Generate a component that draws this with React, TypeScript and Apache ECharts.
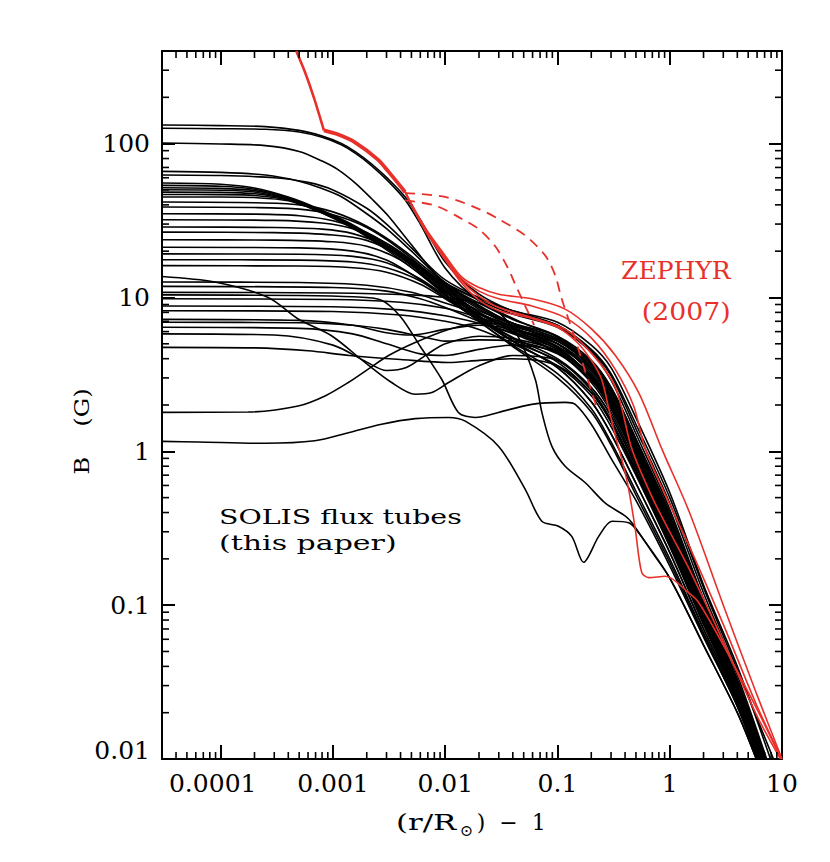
import React, { useEffect, useRef } from 'react';
import * as echarts from 'echarts';

const FONT = "'DejaVu Serif', serif";
const RED = '#e8302b';
const X_MIN = 3e-5;
const X_MAX = 10;
const Y_MIN = 0.01;
const Y_MAX = 400;

const xTickLabels = ['0.0001', '0.001', '0.01', '0.1', '1', '10'];
const yTickLabels = ['0.01', '0.1', '1', '10', '100'];

const xMinorTicks = [
  4e-5, 5e-5, 6e-5, 7e-5, 8e-5, 9e-5,
  2e-4, 3e-4, 4e-4, 5e-4, 6e-4, 7e-4, 8e-4, 9e-4,
  0.002, 0.003, 0.004, 0.005, 0.006, 0.007, 0.008, 0.009,
  0.02, 0.03, 0.04, 0.05, 0.06, 0.07, 0.08, 0.09,
  0.2, 0.3, 0.4, 0.5, 0.6, 0.7, 0.8, 0.9,
  2, 3, 4, 5, 6, 7, 8, 9,
];
const yMinorTicks = [
  0.02, 0.03, 0.04, 0.05, 0.06, 0.07, 0.08, 0.09,
  0.2, 0.3, 0.4, 0.5, 0.6, 0.7, 0.8, 0.9,
  2, 3, 4, 5, 6, 7, 8, 9,
  20, 30, 40, 50, 60, 70, 80, 90,
  200, 300,
];

// ---- SOLIS flux tubes (black) ----
const tube01 = [[3e-5,132],[1e-4,131],[2.5e-4,129],[5e-4,122],[8e-4,112],[1.2e-3,100],[1.6e-3,88],[2.2e-3,74],[3.1e-3,59],[4.4e-3,45],[6e-3,32],[0.01,17],[0.02,10.5],[0.05,7.6],[0.1,6.6],[0.2,4.6],[0.3,3.2],[0.5,1.5],[1,0.5],[2,0.13],[4,0.038],[8.4,0.01]];
const tube02 = [[3e-5,126],[1e-4,125],[2.5e-4,124],[5e-4,119],[8e-4,110],[1.2e-3,98],[1.6e-3,86],[2.2e-3,72],[3.1e-3,57],[4.4e-3,43],[6e-3,30],[0.01,15.5],[0.02,9.5],[0.05,6.8],[0.1,5.5],[0.2,3.5],[0.3,2.3],[0.5,1.05],[1,0.35],[2,0.1],[4,0.03],[7.1,0.01]];
const tube03 = [[3e-5,101],[1e-4,99.5],[2.5e-4,97],[5e-4,89],[8e-4,77],[1.1e-3,68],[1.6e-3,55],[2.2e-3,44],[3.1e-3,34],[5e-3,22],[0.01,12],[0.02,8],[0.05,6],[0.1,4.8],[0.2,3.0],[0.3,1.9],[0.5,0.9],[1,0.3],[2,0.088],[4,0.028],[6.8,0.01]];
const tube04 = [[3e-5,66],[1e-4,65],[2.5e-4,62.5],[5e-4,57],[8e-4,51],[1.2e-3,45],[2e-3,35],[3e-3,28],[5e-3,20],[0.01,12.5],[0.03,7.5],[0.1,5.0],[0.2,3.2],[0.3,2.1],[0.5,1.0],[1,0.32],[2,0.092],[4,0.029],[7,0.01]];
const tube05 = [[3e-5,62.5],[1e-4,62],[3e-4,60],[6e-4,56],[1e-3,50],[2e-3,38],[3e-3,30],[5e-3,21],[0.01,13],[0.03,8.8],[0.1,6.6],[0.2,4.5],[0.3,3.1],[0.5,1.4],[1,0.46],[2,0.12],[4,0.035],[7.3,0.01]];
const tube06 = [[3e-5,55.5],[1e-4,54.5],[2e-4,51.5],[4e-4,45],[7e-4,38.5],[1.4e-3,30.5],[2.7e-3,23],[5.4e-3,16.5],[0.01,12],[0.02,9.2],[0.04,7.2],[0.1,5.6],[0.2,3.7],[0.3,2.45],[0.5,1.12],[1,0.37],[2,0.1],[4,0.031],[7.2,0.01]];
const tube07 = [[3e-5,53.5],[1e-4,52.8],[2e-4,50.5],[4e-4,44.5],[7e-4,38],[1.4e-3,30],[2.7e-3,22.5],[5.4e-3,16],[0.01,11.5],[0.02,8.4],[0.04,6.4],[0.1,4.7],[0.2,3.0],[0.3,1.95],[0.5,0.9],[1,0.3],[2,0.087],[4,0.028],[6.9,0.01]];
const tube08 = [[3e-5,51.7],[1e-4,51.2],[2e-4,49.5],[4e-4,44],[7e-4,37.5],[1.4e-3,29.5],[2.7e-3,22.5],[5.4e-3,16.2],[0.01,11],[0.02,7.4],[0.04,5.2],[0.1,3.5],[0.2,2.1],[0.3,1.3],[0.5,0.62],[1,0.22],[2,0.07],[4,0.024],[6.3,0.01]];
const tube09 = [[3e-5,50.1],[1e-4,49.8],[2e-4,48.5],[4e-4,43.5],[7e-4,37],[1.4e-3,29],[2.7e-3,22],[5.4e-3,15.8],[0.01,11.2],[0.02,8.0],[0.04,6.0],[0.1,4.4],[0.2,2.8],[0.3,1.8],[0.5,0.84],[1,0.28],[2,0.083],[4,0.027],[6.8,0.01]];
const tube10 = [[3e-5,48.4],[1e-4,48.2],[2e-4,47.2],[4e-4,43.5],[7e-4,37.5],[1.4e-3,29.8],[2.7e-3,22.8],[5.4e-3,16.8],[0.01,12.3],[0.02,9.6],[0.04,7.8],[0.1,6.4],[0.2,4.4],[0.3,2.9],[0.5,1.3],[1,0.42],[2,0.11],[4,0.033],[7.2,0.01]];
const tube11 = [[3e-5,46.7],[1e-4,46.6],[2e-4,46],[4e-4,43],[7e-4,37],[1.4e-3,29],[2.7e-3,21.5],[5.4e-3,15],[0.01,10.4],[0.02,7.0],[0.04,4.9],[0.1,3.2],[0.2,1.9],[0.3,1.15],[0.5,0.55],[1,0.2],[2,0.066],[4,0.023],[6.1,0.01]];
const tube12 = [[3e-5,45],[1e-4,45],[2e-4,44.6],[4e-4,42.5],[7e-4,37],[1.4e-3,29.5],[2.7e-3,22],[5.4e-3,15.5],[0.01,10.8],[0.02,7.8],[0.04,6.2],[0.1,5.0],[0.2,3.4],[0.3,2.2],[0.5,1.0],[1,0.33],[2,0.093],[4,0.029],[7,0.01]];
const tube13 = [[3e-5,41.7],[2e-4,41.3],[5e-4,40],[1e-3,36],[2e-3,29],[4e-3,21],[0.01,12.5],[0.02,9.8],[0.04,8.2],[0.1,6.9],[0.2,4.9],[0.3,3.5],[0.5,1.65],[1,0.54],[2,0.135],[4,0.04],[7.9,0.01]];
const tube14 = [[3e-5,38.7],[2e-4,38.4],[5e-4,37.5],[1e-3,34.5],[2e-3,28.5],[4e-3,20.5],[0.01,11.8],[0.02,8.6],[0.04,6.6],[0.1,5.2],[0.2,3.5],[0.3,2.3],[0.5,1.06],[1,0.35],[2,0.098],[4,0.03],[7.1,0.01]];
const tube15 = [[3e-5,35],[2e-4,34.8],[5e-4,34],[1e-3,31.5],[2e-3,26.5],[4e-3,19.5],[0.01,11.5],[0.02,7.6],[0.04,5.2],[0.1,3.5],[0.2,2.1],[0.3,1.3],[0.5,0.62],[1,0.22],[2,0.07],[4,0.024],[6.2,0.01]];
const tube16 = [[3e-5,32],[3e-4,31.7],[8e-4,30.5],[1.5e-3,28],[3e-3,22.5],[6e-3,16],[0.01,12],[0.02,8.8],[0.04,6.8],[0.1,5.4],[0.2,3.8],[0.3,2.6],[0.5,1.2],[1,0.4],[2,0.108],[4,0.032],[7.2,0.01]];
const tube17 = [[3e-5,28.7],[3e-4,28.5],[8e-4,27.8],[1.5e-3,26],[3e-3,21.5],[6e-3,15.5],[0.01,11],[0.02,7.6],[0.04,5.4],[0.1,3.8],[0.2,2.4],[0.3,1.55],[0.5,0.72],[1,0.25],[2,0.076],[4,0.025],[6.5,0.01]];
const tube18 = [[3e-5,26.6],[3e-4,26.4],[1e-3,25.5],[2e-3,23.5],[4e-3,18.5],[0.01,10.5],[0.02,7.2],[0.04,5.2],[0.1,3.9],[0.2,2.6],[0.3,1.7],[0.5,0.8],[1,0.27],[2,0.08],[4,0.026],[6.7,0.01]];
const tube19 = [[3e-5,23.7],[3e-4,23.6],[1e-3,23],[2e-3,21.5],[4e-3,17.5],[0.01,10.8],[0.02,8.2],[0.04,6.8],[0.1,5.6],[0.2,3.9],[0.3,2.6],[0.5,1.2],[1,0.38],[2,0.1],[4,0.031],[7.2,0.01]];
const tube20 = [[3e-5,21.2],[5e-4,21],[1.5e-3,20],[3e-3,17.5],[6e-3,13],[0.01,10],[0.02,7],[0.04,4.8],[0.1,3.0],[0.2,1.8],[0.3,1.1],[0.5,0.52],[1,0.19],[2,0.064],[4,0.022],[6,0.01]];
const tube21 = [[3e-5,19.2],[5e-4,19.1],[1.5e-3,18.5],[3e-3,16.8],[6e-3,13.2],[0.01,10.3],[0.02,7.8],[0.04,6.2],[0.1,4.6],[0.2,3.1],[0.3,2.0],[0.5,0.95],[1,0.31],[2,0.09],[4,0.029],[6.9,0.01]];
const tube22 = [[3e-5,17.6],[5e-4,17.5],[1.5e-3,17],[3e-3,15.6],[6e-3,12.8],[0.01,10],[0.02,7.5],[0.04,6],[0.1,4.8],[0.2,3.3],[0.3,2.15],[0.5,1.0],[1,0.33],[2,0.093],[4,0.029],[7,0.01]];
const tube23 = [[3e-5,16.1],[5e-4,16],[1.5e-3,15.6],[3e-3,14.6],[6e-3,12.2],[0.01,9.8],[0.02,7.2],[0.04,5.5],[0.1,4.0],[0.2,2.6],[0.3,1.7],[0.5,0.8],[1,0.27],[2,0.08],[4,0.026],[6.7,0.01]];
const tube24 = [[3e-5,13.7],[8.85e-5,12.6],[2.65e-4,10],[4.9e-4,7.25],[9.7e-4,5.64],[1.93e-3,3.78],[3.33e-3,2.8],[5.4e-3,2.35],[7.6e-3,2.41],[0.0107,2.8],[0.02,3.6],[0.04,4.2],[0.1,3.9],[0.2,2.5],[0.3,1.6],[0.5,0.76],[1,0.26],[2,0.078],[4,0.026],[6.6,0.01]];
const tube25 = [[3e-5,12.6],[5e-4,12.5],[2e-3,12],[5e-3,10.8],[0.01,9.2],[0.02,7.8],[0.04,6.5],[0.1,5.3],[0.2,3.7],[0.3,2.45],[0.5,1.13],[1,0.37],[2,0.102],[4,0.031],[7.1,0.01]];
const tube26 = [[3e-5,11.8],[1e-3,11.6],[3e-3,11],[6e-3,9.8],[0.01,8.6],[0.02,7],[0.04,5.8],[0.1,4.4],[0.2,2.9],[0.3,1.9],[0.5,0.88],[1,0.29],[2,0.086],[4,0.027],[6.8,0.01]];
const tube27 = [[3e-5,10.8],[1e-3,10.7],[5e-3,10.4],[0.01,10],[0.02,9.2],[0.03,8],[0.045,5.5],[0.0634,2.94],[0.0726,1.79],[0.089,1.08],[0.117,0.8],[0.177,0.625],[0.267,0.46],[0.403,0.379],[0.46,0.343],[0.7,0.22],[1,0.15],[2,0.055],[4,0.02],[5.9,0.01]];
const tube28 = [[3e-5,10.4],[5e-4,10.3],[1.5e-3,10.1],[2.7e-3,9.6],[4e-3,7.5],[6e-3,4.8],[9.3e-3,2.94],[0.0131,1.79],[0.0185,1.66],[0.0298,1.79],[0.059,2.02],[0.117,2.08],[0.144,2.02],[0.2,1.5],[0.3,0.9],[0.5,0.48],[1,0.18],[2,0.062],[4,0.022],[6,0.01]];
const tube29 = [[3e-5,9.8],[1e-3,9.7],[4e-3,9.3],[0.01,8.5],[0.02,7.4],[0.04,6.3],[0.1,5.0],[0.2,3.4],[0.3,2.25],[0.5,1.04],[1,0.34],[2,0.096],[4,0.03],[7.1,0.01]];
const tube30 = [[3e-5,8.8],[1e-3,8.7],[4e-3,8.3],[0.01,7.6],[0.02,6.8],[0.04,5.9],[0.1,4.6],[0.2,3.1],[0.3,2.05],[0.5,0.96],[1,0.32],[2,0.091],[4,0.029],[7,0.01]];
const tube31 = [[3e-5,8.2],[1e-3,8.1],[4e-3,7.7],[0.01,7],[0.02,6.2],[0.04,5.0],[0.1,3.6],[0.2,2.3],[0.3,1.45],[0.5,0.7],[1,0.24],[2,0.075],[4,0.025],[6.4,0.01]];
const tube32 = [[3e-5,7.2],[5e-4,7.1],[1.5e-3,6.6],[3e-3,5.9],[5e-3,5.7],[0.01,6.2],[0.02,6.6],[0.04,6.2],[0.1,5.2],[0.2,3.6],[0.3,2.4],[0.5,1.1],[1,0.36],[2,0.1],[4,0.031],[7.2,0.01]];
const tube33 = [[3e-5,6.9],[5e-4,6.85],[1.5e-3,6.6],[3e-3,6.2],[6e-3,5.6],[0.01,5.2],[0.02,5.3],[0.04,5.2],[0.1,4.3],[0.2,2.9],[0.3,1.9],[0.5,0.9],[1,0.3],[2,0.087],[4,0.028],[6.9,0.01]];
const tube34 = [[3e-5,6.4],[5e-4,6.3],[1.5e-3,5.8],[3e-3,5],[6e-3,4.3],[0.01,4.2],[0.02,4.6],[0.04,4.9],[0.1,4.4],[0.2,3.0],[0.3,2.0],[0.5,0.93],[1,0.31],[2,0.089],[4,0.028],[7,0.01]];
const tube35 = [[3e-5,5.8],[3e-4,5.7],[1e-3,4.9],[2e-3,3.8],[3e-3,3.35],[4.5e-3,3.5],[7e-3,4.3],[0.01,5],[0.02,5.6],[0.04,5.4],[0.1,4.5],[0.2,3.1],[0.3,2.05],[0.5,0.96],[1,0.32],[2,0.09],[4,0.028],[7,0.01]];
const tube36 = [[3e-5,4.74],[2e-4,4.7],[6e-4,4.5],[1.4e-3,4.2],[4e-3,3.95],[0.0107,3.78],[0.02,3.9],[0.04,4.0],[0.1,3.6],[0.2,2.4],[0.3,1.55],[0.5,0.74],[1,0.25],[2,0.076],[4,0.025],[6.5,0.01]];
const tube37 = [[3e-5,1.79],[1.75e-4,1.8],[4.9e-4,1.97],[8.5e-4,2.29],[1.37e-3,2.8],[2.06e-3,3.42],[3.1e-3,4.18],[5.4e-3,5.1],[0.0107,6.2],[0.02,6.8],[0.04,6.6],[0.1,5.4],[0.2,3.8],[0.3,2.5],[0.5,1.17],[1,0.38],[2,0.104],[4,0.032],[7.2,0.01]];
const tube38 = [[3e-5,1.16],[6.3e-5,1.15],[2.47e-4,1.127],[6.9e-4,1.17],[1.37e-3,1.32],[2.71e-3,1.5],[5.4e-3,1.63],[0.0107,1.66],[0.0151,1.57],[0.0298,1.08],[0.0516,0.566],[0.0726,0.351],[0.102,0.326],[0.134,0.28],[0.171,0.19],[0.233,0.28],[0.306,0.351],[0.431,0.343],[0.529,0.295],[1,0.15],[2,0.055],[4,0.02],[5.9,0.01]];

const solisTubes = [
  tube01, tube02, tube03, tube04, tube05, tube06, tube07, tube08, tube09, tube10,
  tube11, tube12, tube13, tube14, tube15, tube16, tube17, tube18, tube19, tube20,
  tube21, tube22, tube23, tube24, tube25, tube26, tube27, tube28, tube29, tube30,
  tube31, tube32, tube33, tube34, tube35, tube36, tube37, tube38,
];

// ---- ZEPHYR (2007) (red) ----
const zephyrSteep = [[4.71e-4,400],[5.62e-4,293],[6.81e-4,196],[8.3e-4,122]];
const zephyrTop = [[8.3e-4,122],[1.1e-3,115],[1.57e-3,102],[2.5e-3,79],[3.11e-3,66],[4.39e-3,48.5]];
const zephyr1 = [[4.39e-3,48.5],[6.6e-3,28.5],[0.01,18.7],[0.014,13.6],[0.02,11.6],[0.03,10.5],[0.059,9.8],[0.117,8.4],[0.203,6.2],[0.328,4.2],[0.53,2.4],[0.854,1.03],[1.5,0.4],[3,0.1],[6,0.026],[10,0.01]];
const zephyr2 = [[4.39e-3,48.5],[6.6e-3,28],[0.01,18.3],[0.014,13.2],[0.02,11],[0.03,9.8],[0.059,8.8],[0.117,7.4],[0.203,5.4],[0.328,3.4],[0.477,1.97],[0.607,1.03],[1,0.45],[1.5,0.24],[3,0.075],[6,0.022],[10,0.01]];
const zephyr3 = [[4.39e-3,48.5],[6.6e-3,27.6],[0.01,17.9],[0.014,12.8],[0.02,10.2],[0.03,8.6],[0.059,7.4],[0.117,6.2],[0.203,4.3],[0.328,2.6],[0.461,1.03],[0.7,0.5],[1,0.3],[1.5,0.17],[3,0.058],[6,0.019],[9.7,0.01]];
const zephyr4 = [[4.39e-3,48.5],[6.6e-3,27.2],[0.01,17.5],[0.014,12.4],[0.02,9.6],[0.03,8.2],[0.059,7.3],[0.1,6.4],[0.15,5.1],[0.2,3.9],[0.247,2.94],[0.286,1.9],[0.328,1.26],[0.38,0.85],[0.431,0.565],[0.494,0.31],[0.563,0.163],[0.65,0.151],[0.916,0.154],[1.48,0.12],[1.81,0.104],[3,0.055],[6,0.021],[9.8,0.01]];
const zephyrDash1 = [[4.39e-3,47.7],[0.01,45],[0.0198,37.7],[0.0298,32.4],[0.0516,25.3],[0.0779,18.7],[0.0955,13.9],[0.109,9.8],[0.144,5.37],[0.189,2.82],[0.22,2.0]];
const zephyrDash2 = [[4.39e-3,42.7],[8.1e-3,39.6],[0.014,32.5],[0.0198,27.9],[0.0279,21.5],[0.0366,15.3],[0.042,12.2],[0.0516,8.8],[0.062,6.6]];

const zephyrSolid = [zephyr1, zephyr2, zephyr3, zephyr4];
const zephyrDashed = [zephyrDash1, zephyrDash2];

function isPow10(v: number) {
  const l = Math.log10(v);
  return Math.abs(l - Math.round(l)) < 1e-6 ? Math.round(l) : null;
}

function buildOption() {
  const labelBase = { fontFamily: FONT, fontSize: 25, color: '#000' };
  const axisLine = { show: true, lineStyle: { color: '#000', width: 2 } };

  const series: any[] = [];
  solisTubes.forEach((d, i) => {
    series.push({
      name: 'tube' + (i + 1), type: 'line', data: d, showSymbol: false, symbol: 'none',
      smooth: 0.3, silent: true, z: 2,
      lineStyle: { color: '#000', width: 1.6 },
    });
  });
  series.push({
    type: 'line', data: zephyrSteep, showSymbol: false, symbol: 'none', smooth: 0.2, silent: true, z: 4,
    lineStyle: { color: RED, width: 2.6 },
  });
  series.push({
    type: 'line', data: zephyrTop, showSymbol: false, symbol: 'none', smooth: 0.3, silent: true, z: 4,
    lineStyle: { color: RED, width: 3.8 },
  });
  zephyrSolid.forEach((d) => {
    series.push({
      type: 'line', data: d, showSymbol: false, symbol: 'none', smooth: 0.3, silent: true, z: 3,
      lineStyle: { color: RED, width: 1.6 },
    });
  });
  zephyrDashed.forEach((d) => {
    series.push({
      type: 'line', data: d, showSymbol: false, symbol: 'none', smooth: 0.3, silent: true, z: 3,
      lineStyle: { color: RED, width: 1.8, type: [10, 7] },
    });
  });

  const minorData = [
    ...xMinorTicks.map((v) => [v, 1, 0]),
    ...yMinorTicks.map((v) => [1e-3, v, 1]),
  ];
  series.push({
    type: 'custom', silent: true, z: 5, clip: false,
    data: minorData,
    encode: { x: 0, y: 1 },
    renderItem: (params: any, api: any) => {
      const kind = api.value(2);
      const st = { stroke: '#000', lineWidth: 1.6 };
      const L = 7;
      if (kind === 0) {
        const v = api.value(0);
        const b = api.coord([v, Y_MIN]);
        const t = api.coord([v, Y_MAX]);
        return {
          type: 'group', children: [
            { type: 'line', shape: { x1: b[0], y1: b[1], x2: b[0], y2: b[1] - L }, style: st },
            { type: 'line', shape: { x1: t[0], y1: t[1], x2: t[0], y2: t[1] + L }, style: st },
          ],
        };
      }
      const v = api.value(1);
      const l = api.coord([X_MIN, v]);
      const r = api.coord([X_MAX, v]);
      return {
        type: 'group', children: [
          { type: 'line', shape: { x1: l[0], y1: l[1], x2: l[0] + L, y2: l[1] }, style: st },
          { type: 'line', shape: { x1: r[0], y1: r[1], x2: r[0] - L, y2: r[1] }, style: st },
        ],
      };
    },
  });

  const xFormatter = (v: number) => {
    const e = isPow10(v);
    if (e === null) return '';
    const s = xTickLabels[e + 4];
    if (!s) return '';
    return e === -4 ? '{sh|' + s + '}' : s;
  };
  const yFormatter = (v: number) => {
    const e = isPow10(v);
    if (e === null) return '';
    const s = yTickLabels[e + 2];
    if (!s) return '';
    return e === -2 ? '{lo|' + s + '}' : s;
  };

  return {
    animation: false,
    backgroundColor: '#ffffff',
    grid: { left: 162, top: 51, width: 620, height: 708, containLabel: false },
    xAxis: [
      {
        type: 'log', logBase: 10, min: X_MIN, max: X_MAX, position: 'bottom',
        axisLine, splitLine: { show: false },
        axisTick: { show: true, inside: true, length: 14, lineStyle: { color: '#000', width: 2 } },
        axisLabel: {
          ...labelBase, margin: 12, formatter: xFormatter, showMinLabel: true, showMaxLabel: true,
          rich: { sh: { ...labelBase, padding: [0, 16, 0, 0] } },
        },
      },
      {
        type: 'log', logBase: 10, min: X_MIN, max: X_MAX, position: 'top',
        axisLine, splitLine: { show: false },
        axisTick: { show: true, inside: true, length: 14, lineStyle: { color: '#000', width: 2 } },
        axisLabel: { show: false },
      },
    ],
    yAxis: [
      {
        type: 'log', logBase: 10, min: Y_MIN, max: Y_MAX, position: 'left',
        axisLine, splitLine: { show: false },
        axisTick: { show: true, inside: true, length: 13, lineStyle: { color: '#000', width: 2 } },
        axisLabel: {
          ...labelBase, margin: 12, formatter: yFormatter, showMinLabel: true, showMaxLabel: true,
          rich: { lo: { ...labelBase, padding: [0, 0, 18, 0] } },
        },
      },
      {
        type: 'log', logBase: 10, min: Y_MIN, max: Y_MAX, position: 'right',
        axisLine, splitLine: { show: false },
        axisTick: { show: true, inside: true, length: 13, lineStyle: { color: '#000', width: 2 } },
        axisLabel: { show: false },
      },
    ],
    graphic: [
      { type: 'text', x: 730.7, y: 270.5, silent: true,
        style: { text: 'ZEPHYR', fill: RED, fontSize: 25, fontFamily: FONT, align: 'right', verticalAlign: 'middle' } },
      { type: 'text', x: 730.7, y: 311.5, scaleX: 1.07, silent: true,
        style: { text: '(2007)', fill: RED, fontSize: 25, fontFamily: FONT, align: 'right', verticalAlign: 'middle' } },
      { type: 'text', x: 219, y: 517, scaleX: 1.42, silent: true,
        style: { text: 'SOLIS flux tubes', fill: '#000', fontSize: 20, fontFamily: FONT, align: 'left', verticalAlign: 'middle' } },
      { type: 'text', x: 219, y: 543, scaleX: 1.5, silent: true,
        style: { text: '(this paper)', fill: '#000', fontSize: 20, fontFamily: FONT, align: 'left', verticalAlign: 'middle' } },
      { type: 'text', x: 396, y: 822.5, scaleX: 1.4, silent: true,
        style: { text: '(r/R', fill: '#000', fontSize: 22, fontFamily: FONT, align: 'left', verticalAlign: 'middle' } },
      { type: 'text', x: 466.5, y: 830.5, silent: true,
        style: { text: '\u2299', fill: '#000', fontSize: 16, fontFamily: FONT, align: 'center', verticalAlign: 'middle' } },
      { type: 'text', x: 476.7, y: 822.5, silent: true,
        style: { text: ')  \u2212  1', fill: '#000', fontSize: 22, fontFamily: FONT, align: 'left', verticalAlign: 'middle' } },
      { type: 'text', x: 81.7, y: 465.8, rotation: Math.PI / 2, scaleX: 1.2, silent: true,
        style: { text: 'B', fill: '#000', fontSize: 20, fontFamily: FONT, align: 'center', verticalAlign: 'middle' } },
      { type: 'text', x: 81.7, y: 407.5, rotation: Math.PI / 2, scaleX: 1.22, silent: true,
        style: { text: '(G)', fill: '#000', fontSize: 20, fontFamily: FONT, align: 'center', verticalAlign: 'middle' } },
    ],
    series,
  };
}

export default function App() {
  const ref = useRef<HTMLDivElement>(null);
  useEffect(() => {
    if (!ref.current) return;
    const chart = echarts.init(ref.current, undefined, { renderer: 'svg' });
    chart.setOption(buildOption() as any);
    return () => chart.dispose();
  }, []);
  return (
    <div
      ref={ref}
      style={{ position: 'fixed', left: 0, top: 0, width: 830, height: 862, background: '#fff' }}
    />
  );
}
